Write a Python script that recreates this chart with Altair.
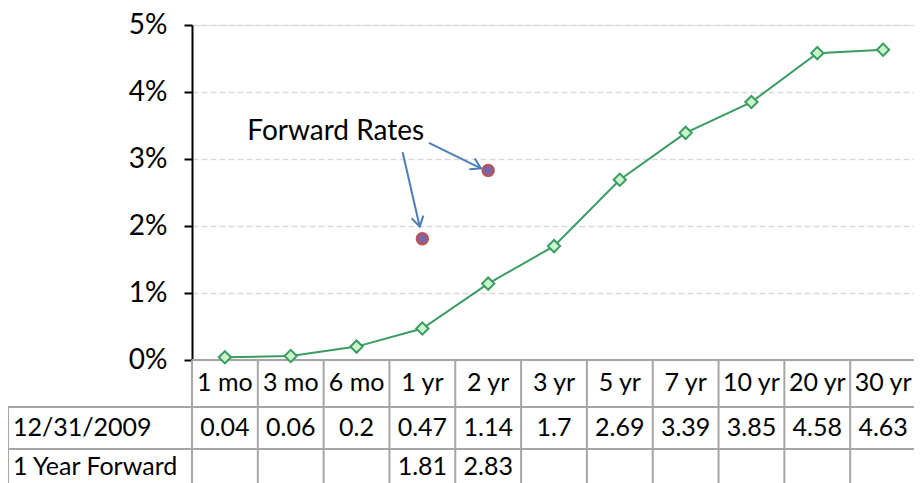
import altair as alt
import pandas as pd

categories = ["1 mo", "3 mo", "6 mo", "1 yr", "2 yr", "3 yr", "5 yr", "7 yr", "10 yr", "20 yr", "30 yr"]
rates_2009 = [0.04, 0.06, 0.2, 0.47, 1.14, 1.7, 2.69, 3.39, 3.85, 4.58, 4.63]
forward_cats = ["1 yr", "2 yr"]
forward_rates = [1.81, 2.83]
row_labels = ["12/31/2009", "1 Year Forward"]
y_ticks = [0, 1, 2, 3, 4, 5]

# annotation (data units)
note_text = "Forward Rates"
note_pos = (0.34, 3.40)
arrow_start_x = [2.70, 3.10]
arrow_start_y = [3.10, 3.24]
arrow_end_x = [2.96, 3.89]
arrow_end_y = [1.99, 2.86]
arrow_angle = [77, 27]

FONT = "Lato"
GREEN = "#3a9b63"
BLUE = "#4a7ebb"
GRID = "#a6a6a6"

n = len(categories)
df = pd.DataFrame({
    "idx": list(range(n)),
    "cat": categories,
    "rate": rates_2009,
    "label": [str(v) for v in rates_2009],
})
fwd = pd.DataFrame({
    "idx": [categories.index(c) for c in forward_cats],
    "rate": forward_rates,
    "label": [str(v) for v in forward_rates],
})
borders = pd.DataFrame({"b": [i - 0.5 for i in range(n + 1)]})
arrows = pd.DataFrame({
    "x": arrow_start_x, "y": arrow_start_y,
    "x2": arrow_end_x, "y2": arrow_end_y, "angle": arrow_angle,
})
note = pd.DataFrame({"x": [note_pos[0]], "y": [note_pos[1]], "t": [note_text]})
rowlab = pd.DataFrame({"t": row_labels, "r": [0, 1]})

FULL_W, W, H = 724, 722, 335
xs = alt.Scale(domain=[-0.5, n - 0.5], nice=False, zero=False, range=[0, FULL_W])
ys = alt.Scale(domain=[0, 5], nice=False)

HEAD_BOTTOM = 382
ROW1_BOTTOM = 424
LEFT = -184
FS = 25

yaxis = alt.Axis(values=y_ticks, labelExpr="datum.value + '%'", title=None,
                 grid=True, gridDash=[6, 3], gridColor="#d9d9d9", gridWidth=1.5,
                 domainColor="black", domainWidth=2, tickColor="black", tickWidth=2,
                 tickSize=8, labelFontSize=28, labelFont=FONT, labelColor="black",
                 labelPadding=17)

base = alt.Chart(df)

line = base.mark_line(color=GREEN, strokeWidth=2).encode(
    x=alt.X("idx:Q", scale=xs, axis=None),
    y=alt.Y("rate:Q", scale=ys, axis=yaxis),
)
pts = base.mark_point(shape="diamond", filled=True, fill="#c8f7cb", stroke=GREEN,
                      strokeWidth=2, size=150, opacity=1).encode(
    x=alt.X("idx:Q", scale=xs, axis=None),
    y=alt.Y("rate:Q", scale=ys, axis=None),
)
fpts = alt.Chart(fwd).mark_point(shape="circle", filled=True, fill="#7d63a8",
                                 stroke="#c0504d", strokeWidth=2, size=130, opacity=1).encode(
    x=alt.X("idx:Q", scale=xs, axis=None),
    y=alt.Y("rate:Q", scale=ys, axis=None),
)
shafts = alt.Chart(arrows).mark_rule(color=BLUE, strokeWidth=2).encode(
    x=alt.X("x:Q", scale=xs, axis=None), y=alt.Y("y:Q", scale=ys, axis=None),
    x2="x2:Q", y2="y2:Q",
)
heads = alt.Chart(arrows).mark_point(shape="M-1,-0.6L0,0L-1,0.6", filled=False,
                                     stroke=BLUE, strokeWidth=2, size=400, opacity=1).encode(
    x=alt.X("x2:Q", scale=xs, axis=None), y=alt.Y("y2:Q", scale=ys, axis=None),
    angle=alt.Angle("angle:Q", scale=None),
)
note_t = alt.Chart(note).mark_text(align="left", baseline="middle", font=FONT,
                                   fontSize=28, color="black").encode(
    x=alt.X("x:Q", scale=xs, axis=None), y=alt.Y("y:Q", scale=ys, axis=None), text="t:N",
)

# table
vlines = alt.Chart(borders).mark_rule(color=GRID, strokeWidth=2).encode(
    x=alt.X("b:Q", scale=xs, axis=None), y=alt.value(H), y2=alt.value(H + 140),
)
hl_top = base.mark_rule(color=GRID, strokeWidth=2).encode(
    x=alt.value(0), x2=alt.value(FULL_W), y=alt.value(H))
hl1 = base.mark_rule(color=GRID, strokeWidth=2).encode(
    x=alt.value(LEFT), x2=alt.value(FULL_W), y=alt.value(HEAD_BOTTOM))
hl2 = base.mark_rule(color=GRID, strokeWidth=2).encode(
    x=alt.value(LEFT), x2=alt.value(FULL_W), y=alt.value(ROW1_BOTTOM))
vleft = base.mark_rule(color=GRID, strokeWidth=2).encode(
    x=alt.value(LEFT), y=alt.value(HEAD_BOTTOM), y2=alt.value(H + 140))

tstyle = dict(align="center", baseline="middle", font=FONT, fontSize=FS, color="black")
head_t = base.mark_text(**tstyle).encode(
    x=alt.X("idx:Q", scale=xs, axis=None), y=alt.value(358), text="cat:N")
row1_t = base.mark_text(**tstyle).encode(
    x=alt.X("idx:Q", scale=xs, axis=None), y=alt.value(403), text="label:N")
row2_t = alt.Chart(fwd).mark_text(**tstyle).encode(
    x=alt.X("idx:Q", scale=xs, axis=None), y=alt.value(442), text="label:N")
rl_t = alt.Chart(rowlab).mark_text(align="left", baseline="middle", font=FONT,
                                   fontSize=FS, color="black").encode(
    x=alt.value(LEFT + 5),
    y=alt.Y("r:Q", scale=alt.Scale(domain=[0, 1], range=[403, 442]), axis=None),
    text="t:N")

chart = alt.layer(
    vlines, hl_top, hl1, hl2, vleft, head_t, row1_t, row2_t, rl_t,
    line, pts, fpts, shafts, heads, note_t,
).resolve_scale(y="independent").properties(
    width=W, height=H,
    autosize=alt.AutoSizeParams(type="none"),
    padding={"left": 184, "top": 17, "right": 0, "bottom": 123},
).configure_view(stroke=None).configure(background="white")

chart.save("out.html", embed_options={"renderer": "svg", "actions": False})
